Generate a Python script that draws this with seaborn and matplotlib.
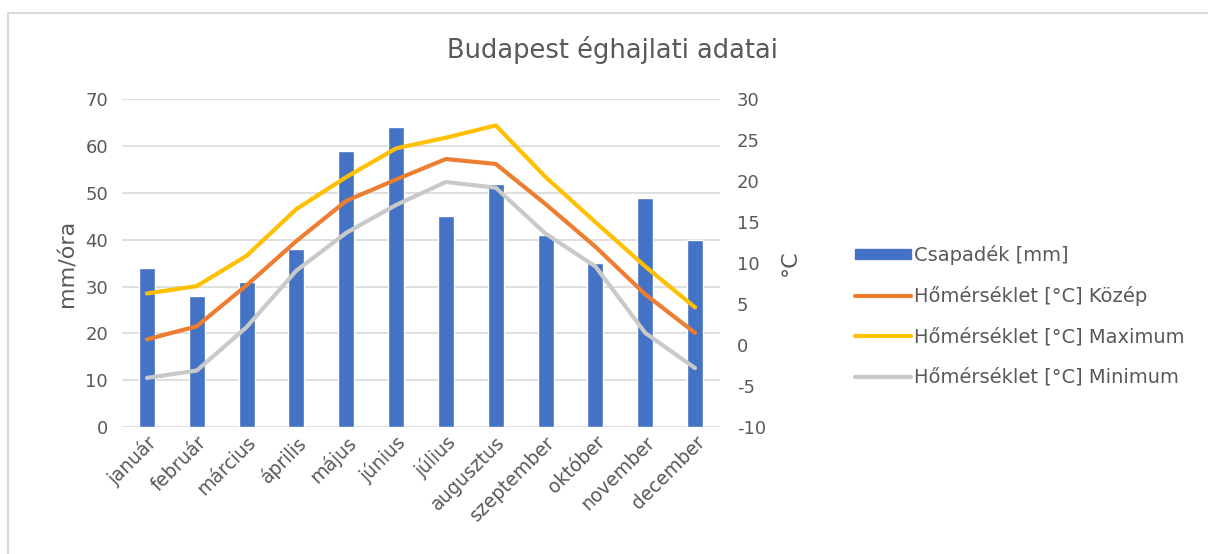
import numpy as np
import pandas as pd
import matplotlib
matplotlib.use("Agg")
import matplotlib.pyplot as plt
import seaborn as sns
from matplotlib.lines import Line2D
from matplotlib.patches import Patch

# Data
months = ["január", "február", "március", "április", "május", "június",
          "július", "augusztus", "szeptember", "október", "november", "december"]
precip = [34, 28, 31, 38, 59, 64, 45, 52, 41, 35, 49, 40]
t_mean = [0.7, 2.3, 7.3, 12.7, 17.6, 20.2, 22.7, 22.1, 17.2, 12.0, 6.2, 1.5]
t_max = [6.3, 7.2, 10.9, 16.6, 20.5, 24.0, 25.3, 26.8, 20.5, 15.0, 9.6, 4.6]
t_min = [-4.0, -3.1, 2.2, 9.1, 13.7, 17.1, 19.9, 19.2, 13.6, 9.6, 1.5, -2.8]

series_names = ["Hőmérséklet [°C] Közép", "Hőmérséklet [°C] Maximum", "Hőmérséklet [°C] Minimum"]
colors = {"bar": "#4472C4", series_names[0]: "#ED7D31",
          series_names[1]: "#FFC000", series_names[2]: "#C9C9C9"}
TXT = "#595959"

sns.set_theme(style="white")
plt.rcParams["font.family"] = ["DejaVu Sans"]
plt.rcParams["axes.unicode_minus"] = False

bar_df = pd.DataFrame({"month": months, "precip": precip})
temp_df = pd.DataFrame({
    "pos": list(range(len(months))) * 3,
    "temp": t_mean + t_max + t_min,
    "series": np.repeat(series_names, len(months)),
})

fig = plt.figure(figsize=(12.08, 5.54), dpi=100)
ax = fig.add_axes([0.101, 0.229, 0.495, 0.592])

sns.barplot(data=bar_df, x="month", y="precip", color=colors["bar"],
            width=0.32, saturation=1, ax=ax, zorder=2)
ax.set_ylim(0, 70)
ax.set_yticks(range(0, 71, 10))
ax.set_xlim(-0.5, 11.5)
ax.grid(axis="y", color="#D9D9D9", lw=1.2, zorder=0)
ax.set_axisbelow(True)
for s in ax.spines.values():
    s.set_visible(False)
ax.set_xlabel("")
ax.set_ylabel("mm/óra", fontsize=16, color=TXT, labelpad=6)
ax.tick_params(axis="y", length=0, labelsize=13, labelcolor=TXT, pad=10)
ax.tick_params(axis="x", length=0, labelsize=13.5, labelcolor=TXT, pad=4)
plt.setp(ax.get_xticklabels(), rotation=45, ha="right", rotation_mode="anchor")

ax2 = ax.twinx()
sns.lineplot(data=temp_df, x="pos", y="temp", hue="series", palette=colors,
             hue_order=series_names, lw=3, ax=ax2, legend=False,
             solid_capstyle="round", solid_joinstyle="round", zorder=3)
ax2.set_ylim(-10, 30)
ax2.set_yticks(range(-10, 31, 5))
ax2.set_xlim(-0.5, 11.5)
for s in ax2.spines.values():
    s.set_visible(False)
ax2.set_xlabel("")
ax2.set_ylabel("°C", fontsize=16, color=TXT, rotation=90, labelpad=10)
ax2.tick_params(axis="y", length=0, labelsize=13, labelcolor=TXT, pad=12)

fig.suptitle("Budapest éghajlati adatai", x=0.507, y=0.935, fontsize=18.5, color=TXT)

handles = [Patch(color=colors["bar"], label="Csapadék [mm]")]
for n in series_names:
    handles.append(Line2D([], [], color=colors[n], lw=3, solid_capstyle="round", label=n))
fig.legend(handles=handles, loc="center left", bbox_to_anchor=(0.693, 0.430),
           frameon=False, fontsize=14, labelcolor=TXT, handlelength=2.9,
           handleheight=0.45, handletextpad=0.15, labelspacing=1.1)

# chart frame as in the spreadsheet export
fig.add_artist(Line2D([0.007, 0.007], [0.0, 0.977], color="#D9D9D9", lw=1.5,
                      transform=fig.transFigure))
fig.add_artist(Line2D([0.007, 1.0], [0.977, 0.977], color="#D9D9D9", lw=1.5,
                      transform=fig.transFigure))

fig.savefig("out.png", dpi=100, facecolor="white")
